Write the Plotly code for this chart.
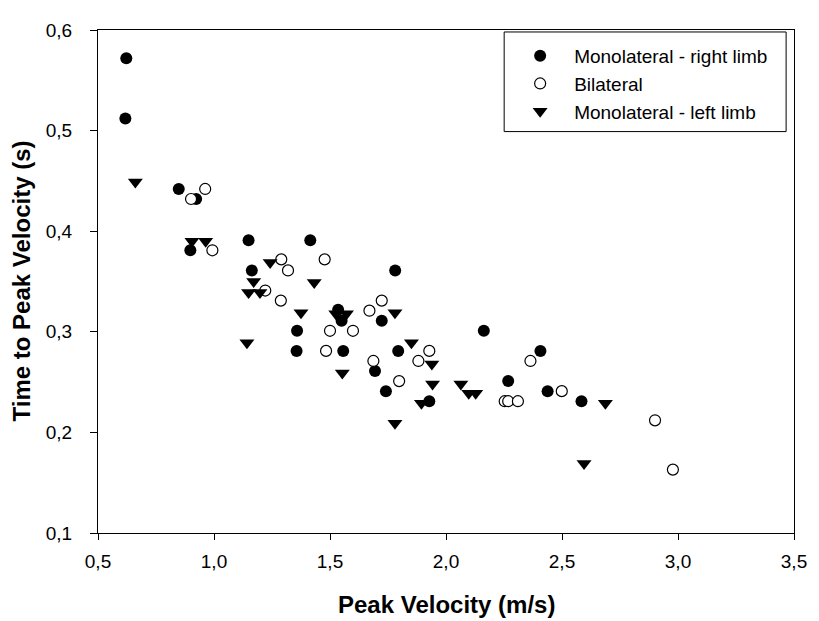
import plotly.graph_objects as go

# Monolateral - right limb (filled circles)
right_x = [0.622, 0.618, 0.848, 0.923, 0.898, 1.149, 1.415, 1.163, 1.535, 1.550, 1.358, 1.356,
           1.557, 1.781, 1.723, 2.163, 1.794, 2.407, 1.694, 1.741, 2.268, 2.438, 1.928, 2.584]
right_y = [0.572, 0.512, 0.442, 0.432, 0.381, 0.391, 0.391, 0.361, 0.322, 0.311, 0.301, 0.281,
           0.281, 0.361, 0.311, 0.301, 0.281, 0.281, 0.261, 0.241, 0.251, 0.241, 0.231, 0.231]

# Bilateral (open circles)
bi_x = [0.962, 0.901, 0.993, 1.290, 1.319, 1.477, 1.221, 1.288, 1.500, 1.599, 1.483, 1.723,
        1.670, 1.928, 1.687, 1.881, 2.364, 1.798, 2.499, 2.253, 2.268, 2.310, 2.901, 2.978]
bi_y = [0.442, 0.432, 0.381, 0.372, 0.361, 0.372, 0.341, 0.331, 0.301, 0.301, 0.281, 0.331,
        0.321, 0.281, 0.271, 0.271, 0.271, 0.251, 0.241, 0.231, 0.231, 0.231, 0.212, 0.163]

# Monolateral - left limb (down triangles)
left_x = [0.661, 0.905, 0.964, 1.242, 1.171, 1.149, 1.198, 1.432, 1.375, 1.525, 1.571, 1.142,
          1.553, 1.780, 1.851, 1.939, 1.942, 2.064, 2.098, 2.128, 1.894, 2.687, 1.780, 2.595]
left_y = [0.449, 0.390, 0.390, 0.369, 0.350, 0.339, 0.339, 0.349, 0.319, 0.318, 0.318, 0.289,
          0.259, 0.319, 0.289, 0.268, 0.248, 0.248, 0.239, 0.239, 0.229, 0.229, 0.209, 0.169]

series_names = ["Monolateral - right limb", "Bilateral", "Monolateral - left limb"]
x_ticks = [0.5, 1.0, 1.5, 2.0, 2.5, 3.0, 3.5]
y_ticks = [0.1, 0.2, 0.3, 0.4, 0.5, 0.6]

FONT = "Liberation Sans, Arial, sans-serif"

fig = go.Figure()
fig.add_trace(go.Scatter(x=right_x, y=right_y, mode="markers", name=series_names[0],
                         marker=dict(symbol="circle", size=12, color="black",
                                     line=dict(width=0))))
fig.add_trace(go.Scatter(x=bi_x, y=bi_y, mode="markers", name=series_names[1],
                         marker=dict(symbol="circle", size=11, color="white",
                                     line=dict(width=1.2, color="black"))))
fig.add_trace(go.Scatter(x=left_x, y=left_y, mode="markers", name=series_names[2],
                         marker=dict(symbol="triangle-down", size=13, color="black",
                                     line=dict(width=0))))

# the page body adds an 8px margin, so the figure is sized/placed to compensate
OFF = 8
W, H = 819 - OFF, 621 - OFF
PL, PR, PT, PB = 98, 804, 23, 533          # plot box in page pixels
L, T = PL - OFF, PT - OFF
R = W - (PR - OFF)
B = H - (PB - OFF)
pw, ph = PR - PL, PB - PT

def px(xp):
    return (xp - PL) / pw

def py(yp):
    return (PB - yp) / ph

axis_common = dict(showgrid=False, zeroline=False, showline=True, linecolor="black",
                   linewidth=1, mirror=True, ticks="outside", tickcolor="black",
                   tickwidth=1, tickfont=dict(family=FONT, size=19, color="black"),
                   tickformat=".1f")

fig.update_layout(
    width=W, height=H,
    margin=dict(l=L, r=R, t=T, b=B, pad=0),
    paper_bgcolor="white", plot_bgcolor="white",
    separators=", ",
    font=dict(family=FONT, color="black"),
    xaxis=dict(range=[0.5, 3.5], tickvals=x_ticks, ticklen=6, ticklabelstandoff=5,
               **axis_common),
    yaxis=dict(range=[0.1, 0.6], tickvals=y_ticks, ticklen=7, ticklabelstandoff=14,
               **axis_common),
    showlegend=True,
    legend=dict(x=px(512), y=py(30), xanchor="left", yanchor="top",
                bgcolor="rgba(0,0,0,0)", borderwidth=0,
                font=dict(family=FONT, size=19, color="black"),
                itemwidth=58),
    shapes=[dict(type="rect", xref="paper", yref="paper",
                 x0=px(510), x1=px(796), y0=py(126), y1=py(25),
                 line=dict(color="black", width=1), fillcolor="rgba(0,0,0,0)")],
    annotations=[
        dict(text="<b>Peak Velocity (m/s)</b>", xref="paper", yref="paper",
             x=0.5, y=0, xanchor="center", yanchor="middle", yshift=-71,
             showarrow=False, font=dict(family=FONT, size=24, color="black")),
        dict(text="<b>Time to Peak Velocity (s)</b>", xref="paper", yref="paper",
             x=0, y=0.5, xanchor="center", yanchor="middle", xshift=-77,
             textangle=-90, showarrow=False,
             font=dict(family=FONT, size=24, color="black")),
    ],
)

fig.write_html("out.html")
